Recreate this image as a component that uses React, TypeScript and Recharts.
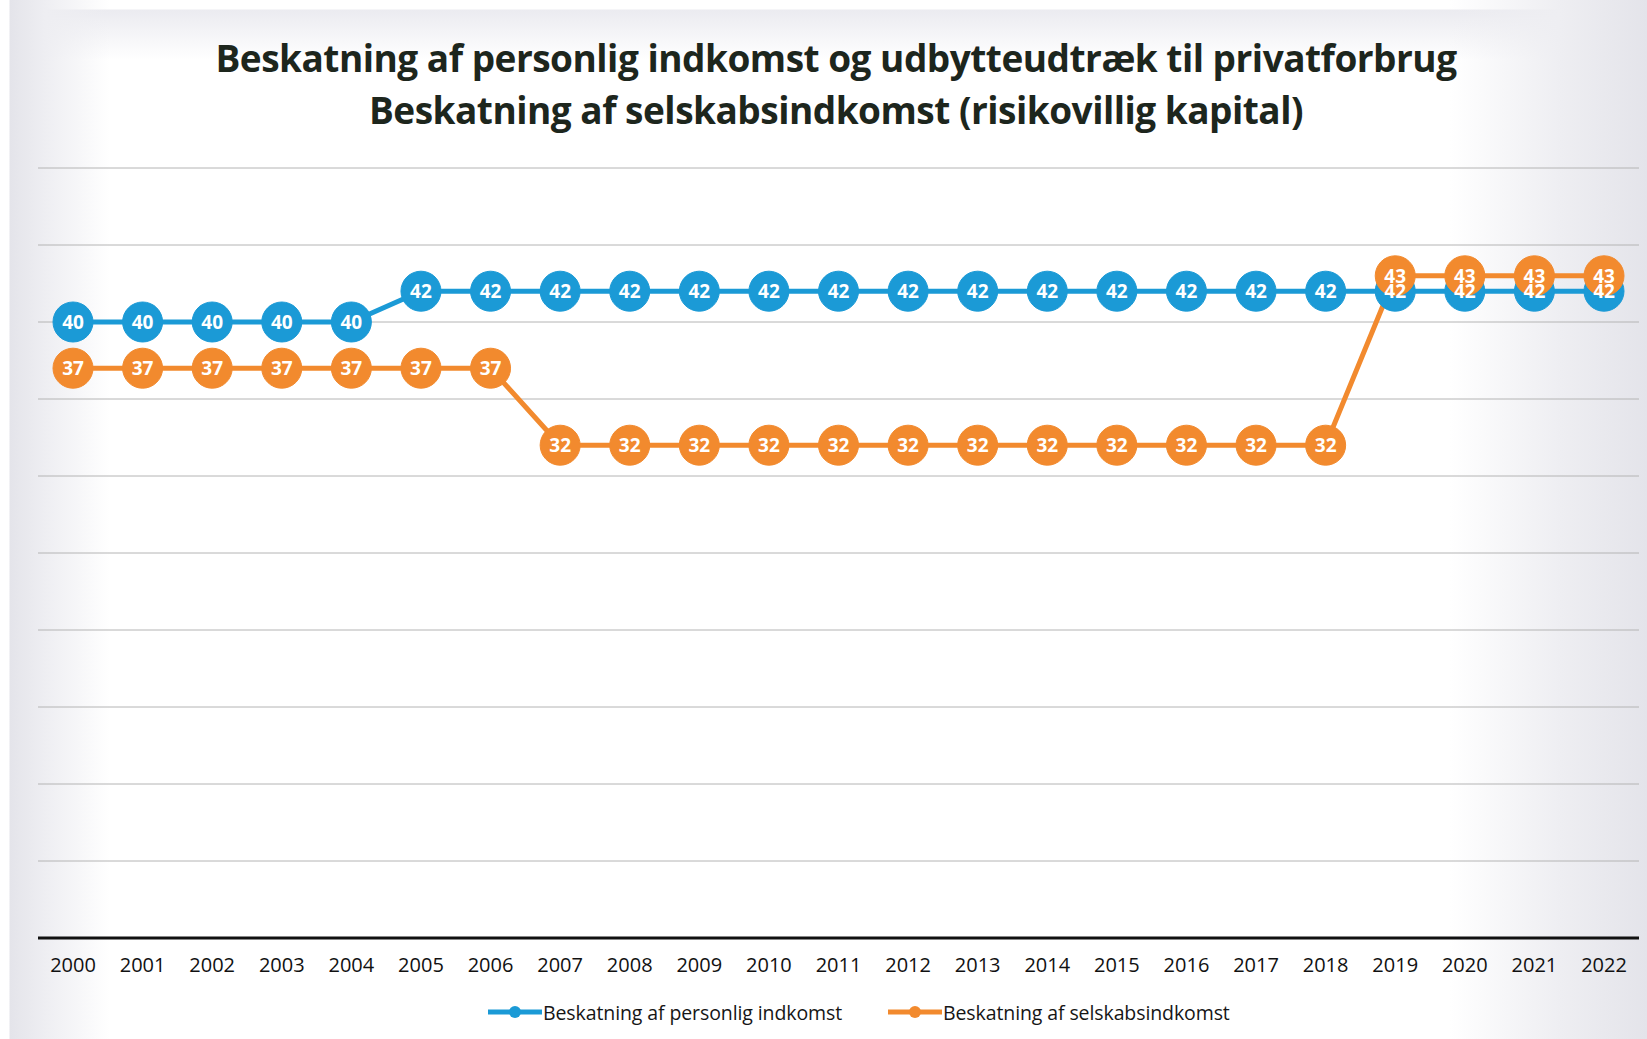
import React from 'react';
import { LineChart, Line, XAxis, YAxis, CartesianGrid, LabelList, Legend } from 'recharts';

const years = ['2000','2001','2002','2003','2004','2005','2006','2007','2008','2009','2010','2011','2012','2013','2014','2015','2016','2017','2018','2019','2020','2021','2022'];
const personligIndkomst = [40,40,40,40,40,42,42,42,42,42,42,42,42,42,42,42,42,42,42,42,42,42,42];
const selskabsIndkomst = [37,37,37,37,37,37,37,32,32,32,32,32,32,32,32,32,32,32,32,43,43,43,43];
const yTicks = [0,5,10,15,20,25,30,35,40,45,50];
const titleLines = ['Beskatning af personlig indkomst og udbytteudtræk til privatforbrug', 'Beskatning af selskabsindkomst (risikovillig kapital)'];
const seriesNames = ['Beskatning af personlig indkomst', 'Beskatning af selskabsindkomst'];

const BLUE = '#1b9ad6';
const ORANGE = '#f28a2e';
const W = 1647;
const H = 1039;

const data = years.map((y, i) => ({ year: y, p: personligIndkomst[i], s: selskabsIndkomst[i] }));

const LegendIcon = ({ color }: { color: string }) => (
  <svg width={54} height={16} style={{ display: 'block' }}>
    <line x1={0} y1={8} x2={54} y2={8} stroke={color} strokeWidth={5} strokeLinecap="round" />
    <circle cx={27} cy={8} r={6} fill={color} />
  </svg>
);

const renderLegend = () => (
  <div style={{ position: 'relative', height: 30, width: W, fontFamily: '"Open Sans", sans-serif', fontSize: 19.5, color: '#161616', letterSpacing: -0.1 }}>
    <div style={{ position: 'absolute', left: 488, top: -2, height: 30, display: 'flex', alignItems: 'center' }}>
      <LegendIcon color={BLUE} />
      <span style={{ marginLeft: 1 }}>{seriesNames[0]}</span>
    </div>
    <div style={{ position: 'absolute', left: 888, top: -2, height: 30, display: 'flex', alignItems: 'center' }}>
      <LegendIcon color={ORANGE} />
      <span style={{ marginLeft: 1 }}>{seriesNames[1]}</span>
    </div>
  </div>
);

const labelStyle = { fill: '#ffffff', fontSize: 19, fontWeight: 700, fontFamily: '"Open Sans", sans-serif' };

export default function App() {
  return (
    <div
      style={{
        position: 'absolute',
        left: 0,
        top: 0,
        width: W,
        height: H,
        overflow: 'hidden',
        background:
          'linear-gradient(to right, #ffffff 0px, #ffffff 9px, #e4e4ea 10px, #eeeef2 45px, rgba(255,255,255,0) 110px, rgba(255,255,255,0) 1450px, #eeeef2 1560px, #e4e4ea 1647px), linear-gradient(to bottom, #ffffff 0px, #ffffff 9px, #ebebf0 10px, #ffffff 60px)',
        backgroundColor: '#ffffff',
      }}
    >
      <div
        style={{
          position: 'absolute',
          left: 0,
          top: 32,
          width: 1672,
          textAlign: 'center',
          fontFamily: '"Open Sans", sans-serif',
          fontWeight: 700,
          fontSize: 37,
          lineHeight: '52px',
          color: '#1d261d',
          letterSpacing: -0.5,
        }}
      >
        <div>{titleLines[0]}</div>
        <div>{titleLines[1]}</div>
      </div>
      <div style={{ position: 'absolute', left: 0, top: 0 }}>
        <LineChart width={W} height={H} data={data} margin={{ top: 168, right: 8, left: 38, bottom: 10 }}>
          <CartesianGrid horizontal vertical={false} stroke="#b4b4b4" strokeWidth={1} />
          <YAxis hide domain={[0, 50]} ticks={yTicks} />
          <XAxis
            dataKey="year"
            height={61}
            tickSize={0}
            tickMargin={20}
            padding={{ left: 35, right: 35 }}
            axisLine={{ stroke: '#111111', strokeWidth: 3 }}
            tickLine={false}
            tick={{ fill: '#111111', fontSize: 20, fontFamily: '"Open Sans", sans-serif' }}
            interval={0}
          />
          <Legend verticalAlign="bottom" content={renderLegend} wrapperStyle={{ left: 0, width: W }} />
          <Line
            type="linear"
            dataKey="p"
            name={seriesNames[0]}
            stroke={BLUE}
            strokeWidth={5}
            dot={{ r: 20, fill: BLUE, stroke: BLUE, strokeWidth: 1 }}
            activeDot={false}
            isAnimationActive={false}
          />
          <Line
            type="linear"
            dataKey="s"
            name={seriesNames[1]}
            stroke={ORANGE}
            strokeWidth={5}
            dot={{ r: 20, fill: ORANGE, stroke: ORANGE, strokeWidth: 1 }}
            activeDot={false}
            isAnimationActive={false}
          />
          <Line
            type="linear"
            dataKey="p"
            stroke="none"
            dot={false}
            activeDot={false}
            legendType="none"
            isAnimationActive={false}
          >
            <LabelList dataKey="p" position="center" style={labelStyle} />
          </Line>
          <Line
            type="linear"
            dataKey="s"
            stroke="none"
            dot={false}
            activeDot={false}
            legendType="none"
            isAnimationActive={false}
          >
            <LabelList dataKey="s" position="center" style={labelStyle} />
          </Line>
        </LineChart>
      </div>
    </div>
  );
}
